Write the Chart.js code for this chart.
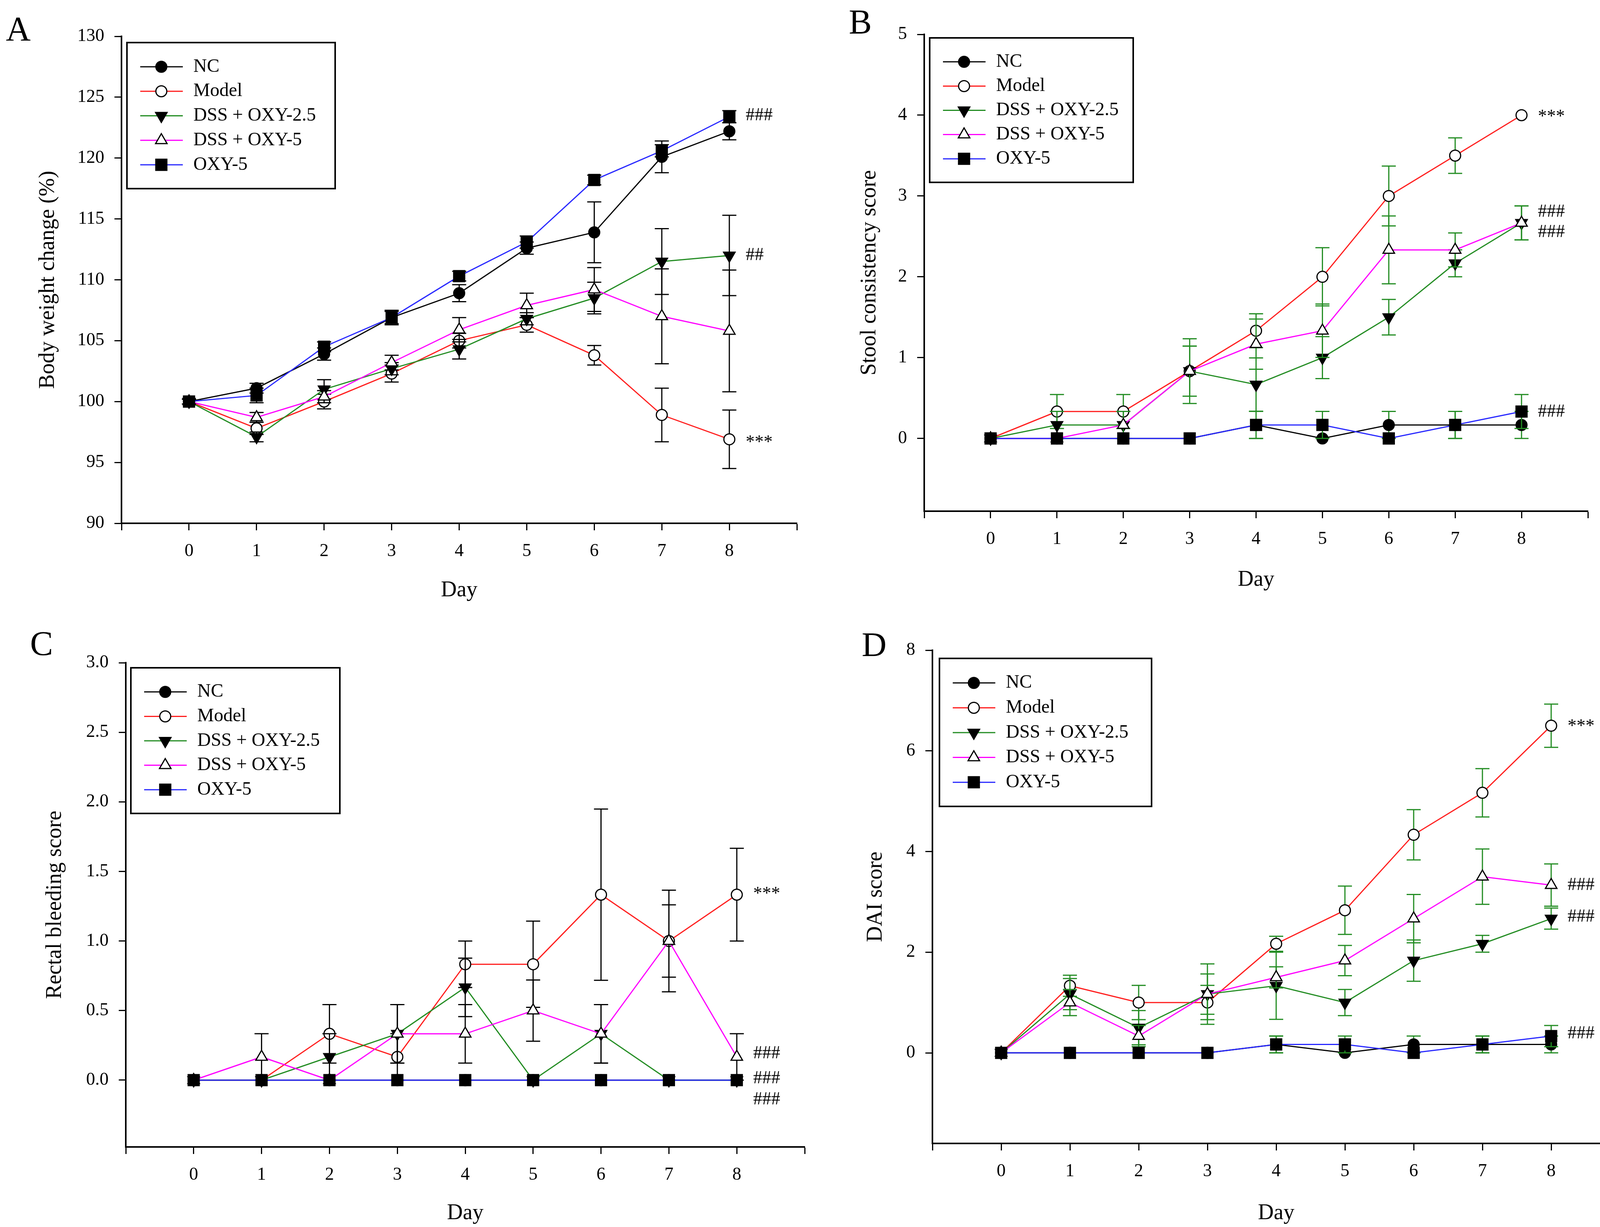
<!DOCTYPE html>
<html><head><meta charset="utf-8">
<script src="https://cdn.jsdelivr.net/npm/chart.js@4.4.1/dist/chart.umd.min.js"></script>
<style>
html,body{margin:0;padding:0;background:#fff;}
#wrap{position:relative;width:4173px;height:3142px;background:#fff;overflow:hidden;}
canvas{position:absolute;}
</style></head><body><div id="wrap">
<canvas id="cA" width="2087" height="1571" style="left:0;top:0;width:2087px;height:1571px"></canvas>
<canvas id="cB" width="2086" height="1571" style="left:2087px;top:0;width:2086px;height:1571px"></canvas>
<canvas id="cC" width="2087" height="1571" style="left:0;top:1571px;width:2087px;height:1571px"></canvas>
<canvas id="cD" width="2086" height="1571" style="left:2087px;top:1571px;width:2086px;height:1571px"></canvas>
</div>
<script>
// ---------- DATA ----------
const days = [0,1,2,3,4,5,6,7,8];
const xTickValues = [-1,0,1,2,3,4,5,6,7,8,9];
const seriesNames = ['NC','Model','DSS + OXY-2.5','DSS + OXY-5','OXY-5'];

// A: Body weight change (%)
const bwNC      = [100,101.1,103.9,106.9,108.9,112.6,113.9,120.1,122.2];
const bwNCErr   = [0.2,0.4,0.5,0.5,0.7,0.5,2.5,1.3,0.7];
const bwModel   = [100,97.8,100.0,102.3,105.0,106.3,103.8,98.9,96.9];
const bwModelErr= [0.2,0.5,0.6,0.7,0.6,0.6,0.8,2.2,2.4];
const bwD25     = [100,97.1,101.0,102.7,104.3,106.8,108.5,111.5,112.0];
const bwD25Err  = [0.2,0.4,0.8,0.5,0.8,0.5,1.3,2.7,3.3];
const bwD5      = [100,98.7,100.4,103.2,105.9,107.9,109.2,107.0,105.8];
const bwD5Err   = [0.2,0.4,0.5,0.6,1.0,1.0,1.8,3.9,5.0];
const bwOXY     = [100,100.5,104.5,106.9,110.3,113.1,118.2,120.6,123.4];
const bwOXYErr  = [0.2,0.6,0.4,0.6,0.4,0.5,0.4,0.5,0.5];
const yTicksA   = [90,95,100,105,110,115,120,125,130];

// B: Stool consistency score
const scNC      = [0,0,0,0,0.167,0,0.167,0.167,0.167];
const scNCErr   = [0,0,0,0,0.167,0,0.167,0.167,0.167];
const scModel   = [0,0.333,0.333,0.833,1.333,2.0,3.0,3.5,4.0];
const scModelErr= [0,0.21,0.21,0.4,0.21,0.36,0.37,0.22,0];
const scD25     = [0,0.167,0.167,0.833,0.667,1.0,1.5,2.167,2.667];
const scD25Err  = [0,0.167,0.167,0.31,0.33,0.26,0.22,0.167,0.21];
const scD5      = [0,0,0.167,0.833,1.167,1.333,2.333,2.333,2.667];
const scD5Err   = [0,0,0.167,0.31,0.31,0.33,0.42,0.21,0.21];
const scOXY     = [0,0,0,0,0.167,0.167,0,0.167,0.333];
const scOXYErr  = [0,0,0,0,0.167,0.167,0,0.167,0.21];
const yTicksB   = [0,1,2,3,4,5];

// C: Rectal bleeding score
const rbNC      = [0,0,0,0,0,0,0,0,0];
const rbNCErr   = [0,0,0,0,0,0,0,0,0];
const rbModel   = [0,0,0.333,0.167,0.833,0.833,1.333,1.0,1.333];
const rbModelErr= [0,0,0.21,0.167,0.167,0.31,0.615,0.365,0.333];
const rbD25     = [0,0,0.167,0.333,0.667,0,0.333,0,0];
const rbD25Err  = [0,0,0.167,0.21,0.21,0,0.21,0,0];
const rbD5      = [0,0.167,0,0.333,0.333,0.5,0.333,1.0,0.167];
const rbD5Err   = [0,0.167,0,0.21,0.21,0.22,0.21,0.26,0.167];
const rbOXY     = [0,0,0,0,0,0,0,0,0];
const rbOXYErr  = [0,0,0,0,0,0,0,0,0];
const yTicksC   = [0,0.5,1.0,1.5,2.0,2.5,3.0];

// D: DAI score
const daiNC      = [0,0,0,0,0.167,0,0.167,0.167,0.167];
const daiNCErr   = [0,0,0,0,0.167,0,0.167,0.167,0.167];
const daiModel   = [0,1.333,1.0,1.0,2.167,2.833,4.333,5.167,6.5];
const daiModelErr= [0,0.21,0.34,0.34,0.15,0.48,0.5,0.48,0.43];
const daiD25     = [0,1.167,0.5,1.167,1.333,1.0,1.833,2.167,2.667];
const daiD25Err  = [0,0.31,0.34,0.6,0.667,0.26,0.41,0.167,0.21];
const daiD5      = [0,1.0,0.333,1.167,1.5,1.833,2.667,3.5,3.333];
const daiD5Err   = [0,0.26,0.21,0.4,0.21,0.3,0.48,0.55,0.42];
const daiOXY     = [0,0,0,0,0.167,0.167,0,0.167,0.333];
const daiOXYErr  = [0,0,0,0,0.167,0.167,0,0.167,0.21];
const yTicksD    = [0,2,4,6,8];

// significance marks (text, y value)
const annotA = [['###',123.5],['##',112.0],['***',96.9]];
const annotB = [['***',4.02],['###',2.8],['###',2.55],['###',0.33]];
const annotC = [['***',1.36],['###',0.19],['###',0.01],['###',-0.14]];
const annotD = [['***',6.55],['###',3.33],['###',2.7],['###',0.38]];

// ---------- STYLE ----------
const FONT = '"Liberation Serif", "Times New Roman", serif';
const COLORS = ['#000000','rgb(255,30,30)','rgb(34,140,34)','rgb(255,0,255)','rgb(40,40,255)'];
const MARKERS = [
  {style:'circle', r:14, rot:0, fill:'#000'},
  {style:'circle', r:14, rot:0, fill:'#fff'},
  {style:'triangle', r:17, rot:180, fill:'#000'},
  {style:'triangle', r:17, rot:0, fill:'#fff'},
  {style:'rect', r:20, rot:0, fill:'#000'}
];

const panels = {
  cA: {letter:'A', lx:15, ly:103, w:2087, h:1571, area:{l:311,t:93,r:2040,b:1340},
       ymin:90, ymax:130, yticks:yTicksA, fmt:v=>String(v), title:'Body weight change (%)',
       ytc:123, xtc:1512, legend:[325,109,858,483], errColor:'#000', annot:annotA,
       series:[[bwNC,bwNCErr],[bwModel,bwModelErr],[bwD25,bwD25Err],[bwD5,bwD5Err],[bwOXY,bwOXYErr]]},
  cB: {letter:'B', lx:86, ly:85, w:2086, h:1571, area:{l:279,t:88,r:1978,b:1309},
       ymin:-0.9, ymax:5, yticks:yTicksB, fmt:v=>String(v), title:'Stool consistency score',
       ytc:139, xtc:1485, legend:[293,97,814,467], errColor:'rgb(34,140,34)', annot:annotB,
       series:[[scNC,scNCErr],[scModel,scModelErr],[scD25,scD25Err],[scD5,scD5Err],[scOXY,scOXYErr]]},
  cC: {letter:'C', lx:77, ly:106, w:2087, h:1571, area:{l:322,t:126,r:2060,b:1366},
       ymin:-0.48, ymax:3, yticks:yTicksC, fmt:v=>v.toFixed(1), title:'Rectal bleeding score',
       ytc:141, xtc:1536, legend:[335,139,870,512], errColor:'#000', annot:annotC,
       series:[[rbNC,rbNCErr],[rbModel,rbModelErr],[rbD25,rbD25Err],[rbD5,rbD5Err],[rbOXY,rbOXYErr]]},
  cD: {letter:'D', lx:119, ly:109, w:2086, h:1571, area:{l:300,t:94,r:2073,b:1357},
       ymin:-1.8, ymax:8, yticks:yTicksD, fmt:v=>String(v), title:'DAI score',
       ytc:155, xtc:1536, legend:[318,115,861,494], errColor:'rgb(34,140,34)', annot:annotD,
       series:[[daiNC,daiNCErr],[daiModel,daiModelErr],[daiD25,daiD25Err],[daiD5,daiD5Err],[daiOXY,daiOXYErr]]}
};

function drawMarker(ctx, m, x, y) {
  ctx.save();
  ctx.beginPath();
  if (m.style === 'circle') ctx.arc(x, y, m.r, 0, Math.PI*2);
  else if (m.style === 'rect') { const s = m.r*Math.SQRT1_2; ctx.rect(x-s, y-s, 2*s, 2*s); }
  else {
    let a = m.rot*Math.PI/180;
    ctx.moveTo(x + Math.sin(a)*m.r, y - Math.cos(a)*m.r);
    a += 2*Math.PI/3; ctx.lineTo(x + Math.sin(a)*m.r, y - Math.cos(a)*m.r);
    a += 2*Math.PI/3; ctx.lineTo(x + Math.sin(a)*m.r, y - Math.cos(a)*m.r);
    ctx.closePath();
  }
  ctx.fillStyle = m.fill; ctx.fill();
  ctx.lineWidth = 3; ctx.strokeStyle = '#000'; ctx.stroke();
  ctx.restore();
}

const decor = {
  id: 'decor',
  // error bars of each series are drawn just before that series' line and symbols
  beforeDatasetDraw(chart, args) {
    const P = panels[chart.canvas.id];
    const ds = chart.data.datasets[args.index];
    const ctx = chart.ctx, xs = chart.scales.x, ys = chart.scales.y;
    ctx.save();
    ctx.strokeStyle = P.errColor; ctx.lineWidth = 3;
    ds.data.forEach((p, j) => {
      const e = ds.errors[j]; if (!e) return;
      const x = xs.getPixelForValue(p.x);
      const y1 = ys.getPixelForValue(p.y + e), y2 = ys.getPixelForValue(p.y - e);
      ctx.beginPath();
      ctx.moveTo(x, y1); ctx.lineTo(x, y2);
      ctx.moveTo(x-18, y1); ctx.lineTo(x+18, y1);
      ctx.moveTo(x-18, y2); ctx.lineTo(x+18, y2);
      ctx.stroke();
    });
    ctx.restore();
  },
  afterDraw(chart) {
    const P = panels[chart.canvas.id];
    const ctx = chart.ctx, xs = chart.scales.x, ys = chart.scales.y;
    ctx.save();
    // panel letter
    ctx.fillStyle = '#000';
    ctx.font = '88px ' + FONT;
    ctx.textAlign = 'left'; ctx.textBaseline = 'alphabetic';
    ctx.fillText(P.letter, P.lx, P.ly);
    // significance marks
    ctx.font = '46px ' + FONT;
    ctx.textBaseline = 'middle';
    const ax = xs.getPixelForValue(days[days.length-1]) + 42;
    P.annot.forEach(([t, v]) => {
      const dy = t.charAt(0) === '*' ? 9 : 0;
      ctx.fillText(t, ax, ys.getPixelForValue(v) + dy);
    });
    // legend
    const [x1,y1,x2,y2] = P.legend;
    const h = y2 - y1, k = h/374;
    ctx.lineWidth = 4; ctx.strokeStyle = '#000';
    ctx.strokeRect(x1, y1, x2-x1, h);
    ctx.font = '48px ' + FONT;
    ctx.textAlign = 'left'; ctx.textBaseline = 'middle';
    seriesNames.forEach((name, i) => {
      const y = y1 + 62*k + i*62.75*k;
      ctx.beginPath(); ctx.strokeStyle = COLORS[i]; ctx.lineWidth = 3;
      ctx.moveTo(x1+34, y); ctx.lineTo(x1+143, y); ctx.stroke();
      drawMarker(ctx, MARKERS[i], x1+88, y);
      ctx.fillStyle = '#000';
      ctx.fillText(name, x1+170, y);
    });
    ctx.restore();
  }
};

function makeChart(id) {
  const P = panels[id];
  const A = P.area;
  const datasets = P.series.map(([vals, errs], i) => ({
    label: seriesNames[i],
    data: days.map((d, j) => ({x: d, y: vals[j]})),
    errors: errs,
    borderColor: COLORS[i], backgroundColor: COLORS[i], borderWidth: 3,
    pointStyle: MARKERS[i].style, pointRadius: MARKERS[i].r, pointRotation: MARKERS[i].rot,
    pointBackgroundColor: MARKERS[i].fill, pointBorderColor: '#000', pointBorderWidth: 3,
    pointHoverRadius: MARKERS[i].r,
    tension: 0, fill: false, clip: false, order: 4 - i
  }));
  const titleLH = 56*1.2/2;
  return new Chart(document.getElementById(id), {
    type: 'line',
    data: {datasets},
    plugins: [decor],
    options: {
      responsive: false, animation: false, devicePixelRatio: 1,
      layout: {padding: {left: 0, top: A.t, right: P.w - A.r, bottom: 0}},
      plugins: {legend: {display: false}, tooltip: {enabled: false}},
      scales: {
        x: {
          type: 'linear', min: -1, max: 9,
          afterBuildTicks: s => { s.ticks = xTickValues.map(v => ({value: v})); },
          afterFit: s => { s.height = P.h - A.b; },
          ticks: {autoSkip: false, maxRotation: 0, padding: 26, color: '#000',
                  font: {family: FONT, size: 46},
                  callback: v => days.includes(v) ? String(v) : ''},
          grid: {drawOnChartArea: false, drawTicks: true, tickLength: 18, tickWidth: 3, tickColor: '#000', color: '#000'},
          border: {display: true, color: '#000', width: 4},
          title: {display: true, text: 'Day', color: '#000', font: {family: FONT, size: 56},
                  padding: {top: 0, bottom: P.h - P.xtc - titleLH}}
        },
        y: {
          type: 'linear', min: P.ymin, max: P.ymax,
          afterBuildTicks: s => { s.ticks = P.yticks.map(v => ({value: v})); },
          afterFit: s => { s.width = A.l; },
          ticks: {padding: 26, color: '#000', font: {family: FONT, size: 46},
                  callback: v => P.fmt(v)},
          grid: {drawOnChartArea: false, drawTicks: true, tickLength: 18, tickWidth: 3, tickColor: '#000', color: '#000'},
          border: {display: true, color: '#000', width: 4},
          title: {display: true, text: P.title, color: '#000', font: {family: FONT, size: 56},
                  padding: {top: P.ytc - titleLH, bottom: 0}}
        }
      }
    }
  });
}
['cA','cB','cC','cD'].forEach(makeChart);
</script>
</body></html>
